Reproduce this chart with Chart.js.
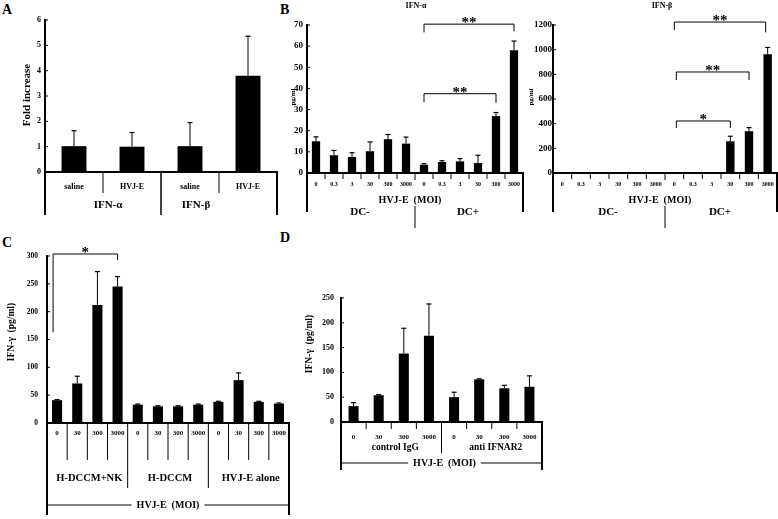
<!DOCTYPE html>
<html>
<head>
<meta charset="utf-8">
<script src="https://cdn.jsdelivr.net/npm/chart.js@4.4.1/dist/chart.umd.min.js"></script>
<style>
  body { margin: 0; background: #fff; }
  #wrap { position: relative; width: 778px; height: 519px; overflow: hidden; font-family: "Liberation Serif", serif; }
  canvas { position: absolute; }
  .lbl { position: absolute; font-weight: bold; font-size: 14px; line-height: 14px; }
</style>
</head>
<body>
<div id="wrap">
  <div class="lbl" style="left:2px;top:3px">A</div>
  <div class="lbl" style="left:280px;top:3px">B</div>
  <div class="lbl" style="left:2px;top:236px">C</div>
  <div class="lbl" style="left:280px;top:231px">D</div>
  <canvas id="cA" width="290" height="232" style="left:0;top:0"></canvas>
  <canvas id="cBa" width="262" height="235" style="left:270px;top:0"></canvas>
  <canvas id="cBb" width="250" height="235" style="left:528px;top:0"></canvas>
  <canvas id="cC" width="300" height="284" style="left:0;top:235px"></canvas>
  <canvas id="cD" width="254" height="249" style="left:296px;top:270px"></canvas>
</div>
<script>
const FONT = '"Liberation Serif", "Times New Roman", serif';

// A: fold increase
const labelsA = ['saline', 'HVJ-E', 'saline', 'HVJ-E'];
const groupsA = ['IFN-α', 'IFN-β'];
const foldA = [1.02, 1.0, 1.02, 3.8];
const foldSdA = [0.61, 0.56, 0.93, 1.56];

// B: IFN-alpha / IFN-beta (pg/ml)
const moiB = ['0', '0.3', '3', '30', '300', '3000', '0', '0.3', '3', '30', '300', '3000'];
const groupsB = ['DC-', 'DC+'];
const alphaB = [15.0, 8.4, 7.6, 10.3, 16.0, 13.9, 3.9, 5.2, 5.5, 4.7, 26.9, 58.1];
const alphaSdB = [2.1, 2.3, 2.0, 4.4, 2.2, 3.1, 0.5, 0.6, 1.3, 3.7, 1.7, 4.3];
const betaB = [0, 0, 0, 0, 0, 0, 0, 0, 0, 257, 339, 962];
const betaSdB = [0, 0, 0, 0, 0, 0, 0, 0, 0, 41, 29, 56];

// C: IFN-gamma (pg/ml)
const moiC = ['0', '30', '300', '3000', '0', '30', '300', '3000', '0', '30', '300', '3000'];
const groupsC = ['H-DCCM+NK', 'H-DCCM', 'HVJ-E alone'];
const gammaC = [41, 71, 212, 245, 33, 30, 30, 33, 38, 77, 38, 35];
const gammaSdC = [1, 13, 60, 18, 1, 1, 1, 1, 1, 13, 1, 1];

// D: IFN-gamma (pg/ml)
const moiD = ['0', '30', '300', '3000', '0', '30', '300', '3000'];
const groupsD = ['control IgG', 'anti IFNAR2'];
const gammaD = [32, 54, 138, 174, 50, 86, 68, 71];
const gammaSdD = [7, 1, 51, 64, 10, 1, 6, 22];

function helper(chart) {
  const ctx = chart.ctx, xs = chart.scales.x, ys = chart.scales.y, a = chart.chartArea;
  const n = chart.data.labels.length;
  const h = {
    ctx, a, n,
    cx: i => xs.getPixelForValue(i),
    edge: i => i <= 0 ? a.left : i >= n ? a.right : (xs.getPixelForValue(i - 1) + xs.getPixelForValue(i)) / 2,
    py: v => ys.getPixelForValue(v),
    line(x1, y1, x2, y2, w) {
      ctx.beginPath(); ctx.lineWidth = w || 1; ctx.strokeStyle = '#000';
      ctx.moveTo(x1, y1); ctx.lineTo(x2, y2); ctx.stroke();
    },
    text(s, x, y, size, align, base) {
      ctx.font = 'bold ' + size + 'px ' + FONT; ctx.fillStyle = '#000';
      ctx.textAlign = align || 'center'; ctx.textBaseline = base || 'middle';
      ctx.fillText(s, x, y);
    },
    vtext(s, x, y, size) {
      ctx.save(); ctx.translate(x, y); ctx.rotate(-Math.PI / 2);
      h.text(s, 0, 0, size); ctx.restore();
    },
    width(s, size) { ctx.font = 'bold ' + size + 'px ' + FONT; return ctx.measureText(s).width; }
  };
  return h;
}

function yTicksIn(h, chart) {
  chart.scales.y.ticks.forEach(t => {
    const y = h.py(t.value);
    h.line(h.a.left, y, h.a.left + 3, y, 1);
  });
}

function errorBars(h, vals, sds) {
  vals.forEach((v, i) => {
    if (!sds[i]) return;
    const x = h.cx(i), y1 = h.py(v), y2 = h.py(v + sds[i]);
    h.line(x, y1, x, y2, 1);
    h.line(x - 2.5, y2, x + 2.5, y2, 1.2);
  });
}

// significance bracket, heights in data units
function bracket(h, x1, x2, top, legL, legR, label) {
  const yt = h.py(top);
  h.line(x1, yt, x2, yt, 1);
  h.line(x1, yt, x1, h.py(legL), 1);
  h.line(x2, yt, x2, h.py(legR), 1);
  h.text(label, (x1 + x2) / 2, yt + 3, 15, 'center', 'alphabetic');
}

// caption with a line on each side
function lineCaption(h, s, xc, y, x1, x2) {
  const w = h.width(s, 10);
  h.text(s, xc, y, 10);
  h.line(x1, y, xc - w / 2 - 5, y, 1);
  h.line(xc + w / 2 + 5, y, x2, y, 1);
}

function makeChart(id, cfg) {
  return new Chart(document.getElementById(id), {
    type: 'bar',
    data: {
      labels: cfg.labels,
      datasets: [{ data: cfg.values, backgroundColor: '#000', borderWidth: 0, barPercentage: 1, categoryPercentage: cfg.barFrac }]
    },
    options: {
      responsive: false,
      animation: false,
      devicePixelRatio: 1,
      layout: { padding: cfg.pad },
      plugins: { legend: { display: false }, tooltip: { enabled: false } },
      scales: {
        x: {
          ticks: { display: false },
          grid: { display: false, drawTicks: false },
          border: { color: '#000', width: 2 },
          afterFit: s => { s.height = cfg.xH; }
        },
        y: {
          min: 0, max: cfg.max,
          ticks: {
            stepSize: cfg.step, color: '#000', padding: cfg.tickPad,
            font: { family: FONT, weight: 'bold', size: cfg.tickSize },
            callback: v => String(v)
          },
          grid: { display: false, drawTicks: false },
          border: { color: '#000', width: 2 },
          afterFit: s => { s.width = cfg.yW; }
        }
      }
    },
    plugins: [{
      id: 'deco',
      afterDraw: chart => {
        const h = helper(chart);
        yTicksIn(h, chart);
        errorBars(h, cfg.values, cfg.sds);
        cfg.draw(h);
      }
    }]
  });
}

makeChart('cA', {
  labels: labelsA, values: foldA, sds: foldSdA, barFrac: 0.43,
  max: 6, step: 1, tickSize: 8, tickPad: 4, yW: 45, xH: 60,
  pad: { top: 20, right: 13, left: 0, bottom: 0 },
  draw: h => {
    const b = h.a.bottom;
    h.vtext('Fold increase', h.a.left - 18, h.a.top + 75, 11);
    [1, 3].forEach(i => h.line(h.edge(i), b, h.edge(i), b + 21, 1));
    h.line(h.edge(2), b, h.edge(2), b + 43, 1.5);
    h.line(h.a.left, b, h.a.left, b + 43, 2);
    h.line(h.a.right, b, h.a.right, b + 43, 2);
    labelsA.forEach((s, i) => h.text(s, h.cx(i), b + 15, 8));
    const shift = [5, -23];
    groupsA.forEach((s, g) => h.text(s, (h.edge(g * 2) + h.edge(g * 2 + 2)) / 2 + shift[g], b + 33, 11));
  }
});

function drawB(h, title) {
  const b = h.a.bottom, mid = h.edge(6);
  h.text(title, h.a.left + 109, 6, 8);
  h.vtext('pg/ml', h.a.left - (title === 'IFN-α' ? 14 : 22), h.a.top + 72, 7);
  for (let i = 1; i < 12; i++) if (i !== 6) h.line(h.edge(i), b, h.edge(i), b + 6, 1);
  h.line(mid, b, mid, b + 7, 1);
  h.line(mid, b + 33, mid, b + 55, 1);
  h.line(h.a.left, b, h.a.left, b + 39, 2);
  h.line(h.a.right, b, h.a.right, b + 39, 2);
  moiB.forEach((s, i) => h.text(s, h.cx(i), b + 11, 6));
  h.text('HVJ-E  (MOI)', mid - 5, b + 27, 10);
  groupsB.forEach((s, g) => h.text(s, (h.edge(g * 6) + h.edge(g * 6 + 6)) / 2 - 1, b + 39, 11));
}

makeChart('cBa', {
  labels: moiB, values: alphaB, sds: alphaSdB, barFrac: 0.46,
  max: 70, step: 10, tickSize: 9, tickPad: 4, yW: 37, xH: 62,
  pad: { top: 25, right: 9, left: 0, bottom: 0 },
  draw: h => {
    drawB(h, 'IFN-α');
    bracket(h, h.cx(6), h.cx(11), 70.4, 66.5, 67, '**');
    bracket(h, h.cx(6), h.cx(10), 37.5, 33.5, 33.2, '**');
  }
});

makeChart('cBb', {
  labels: moiB, values: betaB, sds: betaSdB, barFrac: 0.45,
  max: 1200, step: 200, tickSize: 9, tickPad: 1, yW: 25, xH: 62,
  pad: { top: 25, right: 1, left: 0, bottom: 0 },
  draw: h => {
    drawB(h, 'IFN-β');
    bracket(h, h.cx(6), h.cx(11) - 2, 1224, 1159, 1140, '**');
    bracket(h, h.cx(6) + 2, h.cx(10), 819, 754, 754, '**');
    bracket(h, h.cx(6) + 2, h.cx(9), 422, 365, 365, '*');
  }
});

makeChart('cC', {
  labels: moiC, values: gammaC, sds: gammaSdC, barFrac: 0.5,
  max: 300, step: 50, tickSize: 7.5, tickPad: 9, yW: 47, xH: 96,
  pad: { top: 21, right: 11, left: 0, bottom: 0 },
  draw: h => {
    const b = h.a.bottom;
    h.vtext('IFN-γ  (pg/ml)', h.a.left - 35, h.a.top + 76, 9.5);
    bracket(h, h.cx(0) - 4, h.cx(3), 303.6, 163, 293, '*');
    for (let i = 1; i < 12; i++) {
      if (i % 4 === 0) h.line(h.edge(i), b, h.edge(i), b + 65, 1);
      else h.line(h.edge(i), b, h.edge(i), b + 37, 1);
    }
    h.line(h.a.left, b, h.a.left, b + 92, 2);
    h.line(h.a.right, b, h.a.right, b + 92, 2);
    moiC.forEach((s, i) => h.text(s, h.cx(i), b + 10, 7));
    groupsC.forEach((s, g) => h.text(s, (h.edge(g * 4) + h.edge(g * 4 + 4)) / 2 + 2, b + 55, 10.5));
    lineCaption(h, 'HVJ-E  (MOI)', (h.a.left + h.a.right) / 2, b + 82, h.a.left, h.a.right);
  }
});

makeChart('cD', {
  labels: moiD, values: gammaD, sds: gammaSdD, barFrac: 0.4,
  max: 250, step: 50, tickSize: 8, tickPad: 7, yW: 45, xH: 97,
  pad: { top: 28, right: 8, left: 0, bottom: 0 },
  draw: h => {
    const b = h.a.bottom;
    h.vtext('IFN-γ  (pg/ml)', h.a.left - 31, h.a.top + 46, 9.5);
    for (let i = 1; i < 8; i++) {
      if (i === 4) h.line(h.edge(i), b, h.edge(i), b + 31, 1);
      else h.line(h.edge(i), b, h.edge(i), b + 7, 1);
    }
    h.line(h.a.left, b, h.a.left, b + 48, 2);
    h.line(h.a.right, b, h.a.right, b + 48, 2);
    moiD.forEach((s, i) => h.text(s, h.cx(i), b + 15, 7));
    groupsD.forEach((s, g) => h.text(s, (h.edge(g * 4) + h.edge(g * 4 + 4)) / 2 + 4, b + 26, 9.5));
    lineCaption(h, 'HVJ-E  (MOI)', h.edge(4) + 3, b + 41, h.a.left, h.a.right);
  }
});
</script>
</body>
</html>
